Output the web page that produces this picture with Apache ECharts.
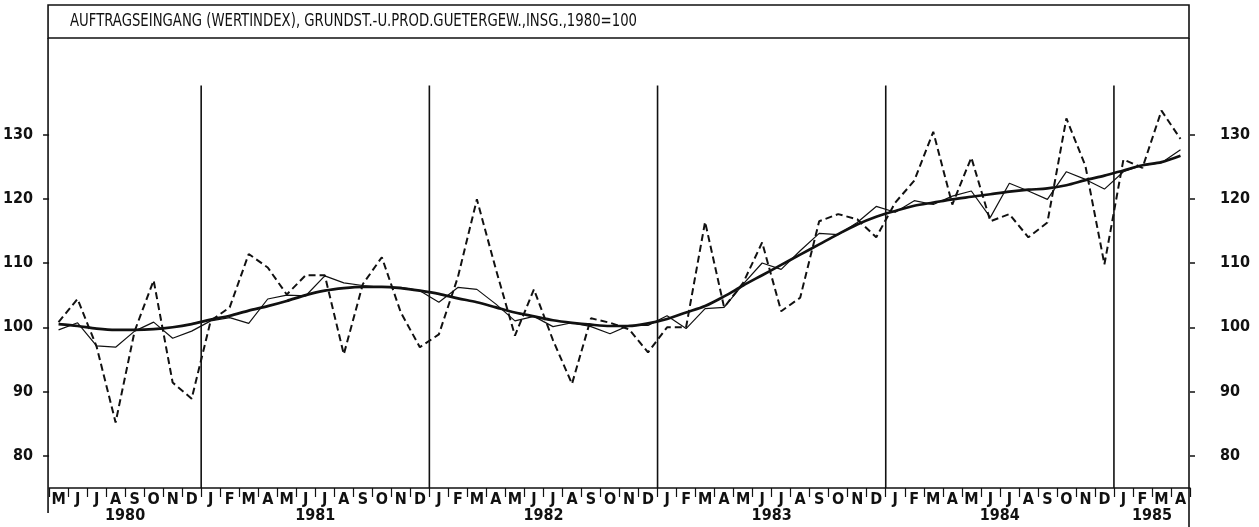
<!DOCTYPE html>
<html>
<head>
<meta charset="utf-8">
<script src="https://cdn.jsdelivr.net/npm/echarts@6/dist/echarts.min.js"></script>
<style>
html,body{margin:0;padding:0;background:#fff;}
#c{width:1259px;height:527px;}
</style>
</head>
<body>
<div id="c"></div>
<script>
const titleText = 'AUFTRAGSEINGANG (WERTINDEX), GRUNDST.-U.PROD.GUETERGEW.,INSG.,1980=100';

const months = [
  'M','J','J','A','S','O','N','D',
  'J','F','M','A','M','J','J','A','S','O','N','D',
  'J','F','M','A','M','J','J','A','S','O','N','D',
  'J','F','M','A','M','J','J','A','S','O','N','D',
  'J','F','M','A','M','J','J','A','S','O','N','D',
  'J','F','M','A'
];
const years = ['1980','1981','1982','1983','1984','1985'];
const monthsPerYear = [8,12,12,12,12,4];
const yTicks = [80,90,100,110,120,130];

// original (unadjusted) values - dashed
const rawValues = [
  100.8,104.4,97.0,85.2,99.4,107.3,91.4,88.9,
  101.0,103.1,111.4,109.3,105.1,108.1,108.1,95.8,106.7,110.9,102.3,96.9,
  98.9,107.8,119.9,109.0,98.7,105.9,98.0,91.2,101.4,100.7,99.7,96.1,
  100.0,100.0,116.4,103.1,106.9,113.2,102.5,104.6,116.5,117.6,116.8,114.0,
  119.4,122.8,130.4,119.1,126.4,116.5,117.6,114.0,116.3,132.5,125.1,109.8,
  126.1,124.8,133.7,129.3
];
// seasonally adjusted - thin solid
const adjValues = [
  99.6,100.7,97.1,96.9,99.4,100.8,98.3,99.4,
  101.0,101.5,100.6,104.4,105.0,104.9,108.0,106.9,106.5,106.2,106.2,105.7,
  103.9,106.2,105.9,103.6,101.0,101.7,100.1,100.7,100.1,99.0,100.3,100.3,
  101.8,99.8,102.9,103.1,106.7,110.0,109.0,111.9,114.6,114.4,116.3,118.8,
  117.9,119.7,119.1,120.4,121.2,117.1,122.4,121.2,119.9,124.2,123.0,121.5,
  124.2,125.2,125.6,127.6
];
// trend - thick solid
const trendValues = [
  100.5,100.2,99.8,99.6,99.6,99.7,100.0,100.5,
  101.2,101.8,102.6,103.3,104.1,105.0,105.7,106.1,106.3,106.3,106.1,105.7,
  105.2,104.5,103.9,103.1,102.3,101.7,101.1,100.7,100.4,100.2,100.2,100.6,
  101.3,102.3,103.3,104.8,106.5,108.1,109.7,111.3,112.9,114.5,116.0,117.2,
  118.1,118.9,119.4,119.9,120.3,120.7,121.1,121.4,121.6,122.1,122.9,123.6,
  124.4,125.2,125.7,126.7
];

// derived positions of year labels / boundaries (in month units)
const yearCenters = [];
const yearBounds = [];
let acc = 0;
monthsPerYear.forEach((n, i) => {
  yearCenters.push(acc + n / 2);
  acc += n;
  if (i < monthsPerYear.length - 1) yearBounds.push(acc);
});
const totalMonths = acc;

const FONT = '"Liberation Sans Narrow", "DejaVu Sans Condensed", sans-serif';
const black = '#111';

const chart = echarts.init(document.getElementById('c'), null, {renderer: 'canvas'});
const lblStyle = {color: black, fontFamily: FONT, fontWeight: 'bold', fontSize: 16};

chart.setOption({
  animation: false,
  backgroundColor: '#fff',
  grid: {left: 47, right: 69, top: 38, bottom: 39, containLabel: false},
  xAxis: [
    {
      type: 'category', data: months, boundaryGap: true, position: 'bottom',
      axisLine: {show: true, lineStyle: {color: black, width: 1.5}},
      axisTick: {show: true, interval: 0, length: 9, lineStyle: {color: black, width: 1.2}},
      axisLabel: Object.assign({interval: 0, margin: 4}, lblStyle),
      splitLine: {show: false}
    },
    {
      type: 'value', min: 0, max: totalMonths, position: 'bottom',
      axisLine: {show: false}, axisTick: {show: false}, splitLine: {show: false},
      axisLabel: Object.assign({
        customValues: yearCenters, margin: 20,
        formatter: v => { const k = yearCenters.indexOf(v); return k >= 0 ? years[k] : ''; }
      }, lblStyle)
    }
  ],
  yAxis: [
    {
      type: 'value', min: 75, max: 145, position: 'left',
      axisLine: {show: false}, splitLine: {show: false},
      axisTick: {show: true, customValues: yTicks, length: 6, lineStyle: {color: black, width: 1.5}},
      axisLabel: Object.assign({customValues: yTicks, margin: 16, padding: [0, 0, 5, 0]}, lblStyle)
    },
    {
      type: 'value', min: 75, max: 145, position: 'right',
      axisLine: {show: false}, splitLine: {show: false},
      axisTick: {show: true, customValues: yTicks, length: 5, lineStyle: {color: black, width: 1.5}},
      axisLabel: Object.assign({customValues: yTicks, margin: 30, padding: [0, 0, 5, 0]}, lblStyle)
    }
  ],
  series: [
    {
      name: 'Ursprungswerte', type: 'line', data: rawValues, symbol: 'none',
      lineStyle: {color: black, width: 2, type: [7, 4]}, z: 2
    },
    {
      name: 'saisonbereinigt', type: 'line', data: adjValues, symbol: 'none',
      lineStyle: {color: black, width: 1.2}, z: 3
    },
    {
      name: 'Trend', type: 'line', data: trendValues, symbol: 'none', smooth: 0.3,
      lineStyle: {color: black, width: 2.7}, z: 4
    }
  ]
});

// title text fitted to the reference width
const titleFont = '17px ' + FONT;
const cv = document.createElement('canvas').getContext('2d');
cv.font = titleFont;
const tw = cv.measureText(titleText).width || 567;
const titleScale = Math.min(1.3, 567 / tw);

// decorative frame, title box and year separators positioned via the chart's scales
const x0 = chart.convertToPixel({xAxisIndex: 1}, 0);
const x1 = chart.convertToPixel({xAxisIndex: 1}, totalMonths);
const yBottom = chart.convertToPixel({yAxisIndex: 0}, 75);
const yTopGrid = chart.convertToPixel({yAxisIndex: 0}, 145);
const ySepTop = chart.convertToPixel({yAxisIndex: 0}, 137.6);
const frameL = x0 - 1, frameR = x1 - 1;
const gfx = [
  {type: 'rect', shape: {x: frameL, y: 5, width: frameR - frameL, height: yTopGrid - 5},
   style: {fill: 'none', stroke: black, lineWidth: 1.6}, z: 10},
  {type: 'text', x: 70, y: 22, scaleX: titleScale,
   style: {text: titleText, fill: black, font: titleFont, verticalAlign: 'middle', textAlign: 'left'}, z: 10},
  {type: 'line', shape: {x1: frameL, y1: yTopGrid, x2: frameL, y2: 513},
   style: {stroke: black, lineWidth: 1.6}, z: 10},
  {type: 'line', shape: {x1: frameR, y1: yTopGrid, x2: frameR, y2: 527},
   style: {stroke: black, lineWidth: 1.6}, z: 10}
];
yearBounds.forEach(b => {
  const x = chart.convertToPixel({xAxisIndex: 1}, b);
  gfx.push({type: 'line', shape: {x1: x, y1: ySepTop, x2: x, y2: yBottom},
    style: {stroke: black, lineWidth: 1.6}, z: 10});
});
chart.setOption({graphic: gfx});
</script>
</body>
</html>
